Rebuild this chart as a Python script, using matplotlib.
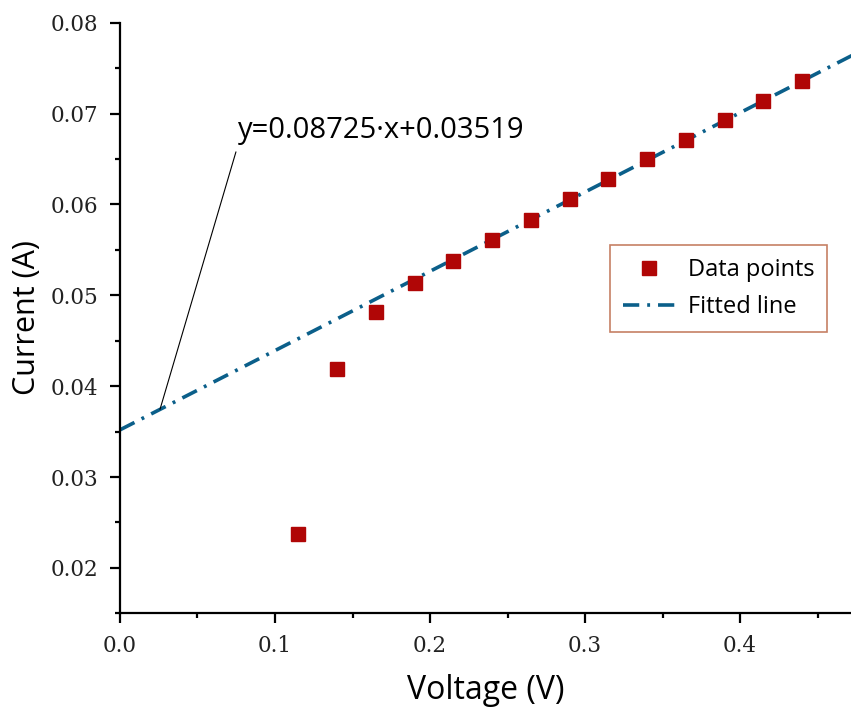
import numpy as np
import matplotlib
matplotlib.use("Agg")
import matplotlib.pyplot as plt
from matplotlib.ticker import MultipleLocator, FuncFormatter

# Data
voltage = [0.115, 0.14, 0.165, 0.19, 0.215, 0.24, 0.265, 0.29, 0.315, 0.34, 0.365, 0.39, 0.415, 0.44]
current = [0.0237, 0.0419, 0.0482, 0.0513, 0.0538, 0.0561, 0.0583, 0.0606, 0.0628, 0.0650, 0.0671, 0.0693, 0.0714, 0.0736]
slope = 0.08725
intercept = 0.03519
fit_x = [0.0, 0.48]
fit_y = [intercept + slope * v for v in fit_x]
eq_text = "y=0.08725·x+0.03519"

fig = plt.figure(figsize=(8.51, 7.07), dpi=100)
ax = fig.add_axes([0.141, 0.1325, 0.859, 0.8354])

ax.plot(fit_x, fit_y, linestyle=(0, (4.5, 2.2, 0.8, 2.2)), color="#0b5f8a", lw=2.6,
        label="Fitted line", zorder=2)
ax.plot(voltage, current, linestyle="none", marker="s", markersize=10,
        color="#b00606", label="Data points", zorder=3)

ax.set_xlim(0, 0.4716)
ax.set_ylim(0.015, 0.08)

ax.xaxis.set_major_locator(MultipleLocator(0.1))
ax.xaxis.set_minor_locator(MultipleLocator(0.05))
ax.yaxis.set_major_locator(MultipleLocator(0.01))
ax.yaxis.set_minor_locator(MultipleLocator(0.005))
ax.xaxis.set_major_formatter(FuncFormatter(lambda v, p: f"{v:.1f}"))
ax.yaxis.set_major_formatter(FuncFormatter(lambda v, p: f"{v:.2f}"))

ax.spines["top"].set_visible(False)
ax.spines["right"].set_visible(False)
for s in ("left", "bottom"):
    ax.spines[s].set_linewidth(1.6)
ax.tick_params(which="major", direction="out", length=7.5, width=1.6,
               labelsize=15.5, pad=8)
ax.tick_params(which="minor", direction="out", length=3.5, width=1.6)
for lab in ax.get_xticklabels() + ax.get_yticklabels():
    lab.set_family("DejaVu Serif")
    lab.set_color("#222222")

ax.set_xlabel("Voltage (V)", fontsize=23, family="Open Sans", labelpad=12)
ax.set_ylabel("Current (A)", fontsize=22, family="Open Sans", labelpad=6)

ax.annotate(eq_text, xy=(0.0258, intercept + slope * 0.0258),
            xytext=(0.0761, 0.0673), textcoords="data",
            fontsize=21, family="Open Sans", ha="left", va="baseline",
            arrowprops=dict(arrowstyle="-", color="black", lw=0.8,
                            relpos=(0.0, 0.0), shrinkA=3, shrinkB=0))

handles, labels = ax.get_legend_handles_labels()
leg = ax.legend(handles[::-1], labels[::-1], loc="upper left",
                bbox_to_anchor=(0.670, 0.6236), borderaxespad=0,
                fancybox=False, prop={"family": "Open Sans", "size": 17},
                frameon=True, borderpad=0.55, handlelength=2.2,
                handletextpad=0.55, labelspacing=0.57)
leg.get_frame().set_edgecolor("#b8603e")
leg.get_frame().set_linewidth(1.2)

fig.savefig("out.png", dpi=100)
